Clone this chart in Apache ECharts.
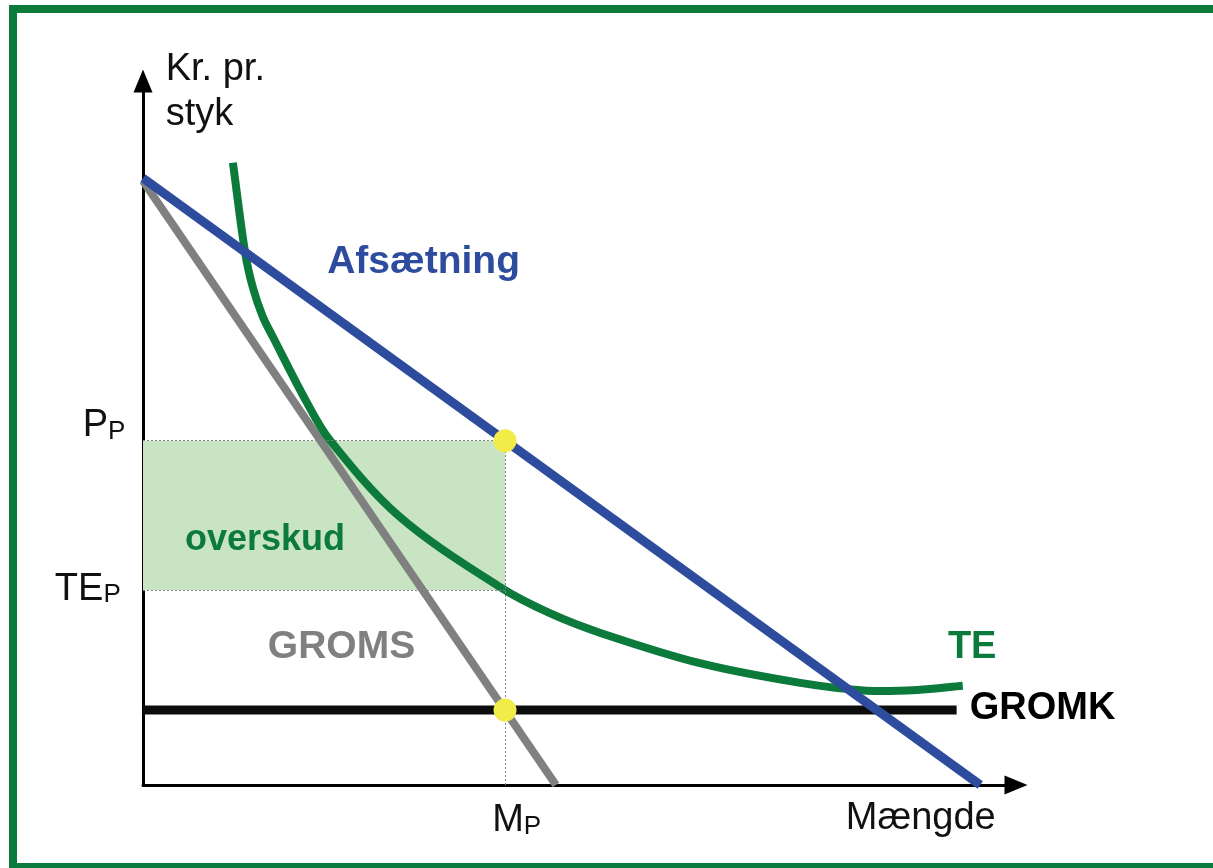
<!DOCTYPE html>
<html>
<head>
<meta charset="utf-8">
<script src="https://cdn.jsdelivr.net/npm/echarts@6/dist/echarts.min.js"></script>
<style>
html,body{margin:0;padding:0;background:#fff;}
#chart{width:1213px;height:868px;}
</style>
</head>
<body>
<div id="chart"></div>
<script>
// ---- Data (quantity on x, kr. per unit on y) ----
const afsaetning = [[0, 8.62], [9.59, 0]];          // demand / price line
const groms = [[0, 8.58], [4.73, 0]];               // marginal revenue
const gromk = [[0, 1.065], [9.32, 1.065]];          // marginal cost
const teCurve = [                                   // average cost (TE)
  [1.03, 8.84], [1.17, 7.56], [1.26, 7.06], [1.37, 6.66], [1.49, 6.36],
  [1.87, 5.45], [2.14, 4.90], [2.94, 3.81], [4.09, 2.81], [4.66, 2.44],
  [5.24, 2.16], [6.38, 1.73], [7.53, 1.45], [8.29, 1.34], [8.87, 1.35],
  [9.39, 1.41]
];
const MP = 4.147;    // optimal quantity
const PP = 4.89;     // optimal price
const TEP = 2.77;    // average cost at MP
const GROMK_VAL = 1.065;
const optimumPoints = [[MP, PP], [MP, GROMK_VAL]];

// ---- Text annotations (anchor in data coordinates) ----
const labels = [
  {text: 'Kr. pr.', at: [0.26, 10.16], kind: 'plain'},
  {text: 'styk', at: [0.26, 9.52], kind: 'plain'},
  {text: 'Afsætning', at: [2.11, 7.43], kind: 'blue'},
  {text: 'overskud', at: [0.48, 3.48], kind: 'green2'},
  {text: 'GROMS', at: [1.43, 1.95], kind: 'gray'},
  {text: 'TE', at: [9.22, 1.96], kind: 'green'},
  {text: 'GROMK', at: [9.47, 1.09], kind: 'black'},
  {text: 'Mængde', at: [8.05, -0.48], kind: 'plain'},
  {text: '{a|M}{b|P}', at: [4.00, -0.51], kind: 'sub'},
  {text: '{a|P}{b|P}', at: [-0.69, 5.10], kind: 'sub'},
  {text: '{a|TE}{b|P}', at: [-1.01, 2.78], kind: 'sub'}
];

const FONT = '"Liberation Sans", Arial, Helvetica, sans-serif';
const BLUE = '#2E4C9E', GREEN = '#0B7A3B', GRAY = '#808080', BLACK = '#0d0d0d';

const chart = echarts.init(document.getElementById('chart'), null, {renderer: 'canvas'});

// Smooth curve through the TE points (chord-length Hermite spline), in pixel space
function smoothPath(pts) {
  const n = pts.length;
  const dist = (a, b) => Math.hypot(b[0] - a[0], b[1] - a[1]);
  const tan = pts.map((p, i) => {
    if (i === 0) { const d = dist(pts[0], pts[1]); return [(pts[1][0] - p[0]) / d, (pts[1][1] - p[1]) / d]; }
    if (i === n - 1) { const d = dist(pts[n - 2], p); return [(p[0] - pts[n - 2][0]) / d, (p[1] - pts[n - 2][1]) / d]; }
    const d = dist(pts[i - 1], p) + dist(p, pts[i + 1]);
    return [(pts[i + 1][0] - pts[i - 1][0]) / d, (pts[i + 1][1] - pts[i - 1][1]) / d];
  });
  let s = 'M' + pts[0][0] + ',' + pts[0][1];
  for (let i = 0; i < n - 1; i++) {
    const d = dist(pts[i], pts[i + 1]) / 3;
    const c1 = [pts[i][0] + tan[i][0] * d, pts[i][1] + tan[i][1] * d];
    const c2 = [pts[i + 1][0] - tan[i + 1][0] * d, pts[i + 1][1] - tan[i + 1][1] * d];
    s += 'C' + c1[0] + ',' + c1[1] + ',' + c2[0] + ',' + c2[1] + ',' + pts[i + 1][0] + ',' + pts[i + 1][1];
  }
  return s;
}

const axisCommon = {
  type: 'value', min: 0, max: 10,
  splitLine: {show: false}, axisTick: {show: false}, axisLabel: {show: false},
  axisLine: {show: true, onZero: false, lineStyle: {color: '#000', width: 3},
             symbol: ['none', 'triangle'], symbolSize: [19, 23]}
};

const option = {
  animation: false,
  backgroundColor: '#fff',
  grid: {left: 143, right: 197, top: 81, bottom: 83, containLabel: false},
  xAxis: Object.assign({}, axisCommon),
  yAxis: Object.assign({}, axisCommon),
  series: [
    {
      type: 'line', data: [], z: 1, silent: true,
      markArea: {silent: true, itemStyle: {color: '#C8E4C2'},
        data: [[{coord: [0, TEP]}, {coord: [MP, PP]}]]},
      markLine: {silent: true, symbol: ['none', 'none'], label: {show: false},
        lineStyle: {type: [2, 2], color: '#858585', width: 1},
        data: [
          [{coord: [0, PP]}, {coord: [MP, PP]}],
          [{coord: [0, TEP]}, {coord: [MP, TEP]}],
          [{coord: [MP, 0]}, {coord: [MP, PP]}]
        ]}
    },
    {name: 'GROMS', type: 'line', data: groms, symbol: 'none', z: 3,
     lineStyle: {color: GRAY, width: 8}},
    {name: 'GROMK', type: 'line', data: gromk, symbol: 'none', z: 3,
     lineStyle: {color: BLACK, width: 9, cap: 'butt'}},
    {name: 'TE', type: 'custom', data: teCurve, z: 4, silent: true,
     encode: {x: 0, y: 1},
     renderItem: function (params, api) {
       if (params.dataIndex !== 0) return null;
       const pts = teCurve.map(p => api.coord(p));
       return {type: 'path', shape: {pathData: smoothPath(pts)},
               style: {fill: 'none', stroke: GREEN, lineWidth: 8, lineCap: 'butt'}};
     }},
    {name: 'Afsætning', type: 'line', data: afsaetning, symbol: 'none', z: 5,
     lineStyle: {color: BLUE, width: 9}},
    {type: 'scatter', data: optimumPoints, symbolSize: 23, z: 6,
     itemStyle: {color: '#F2EC48', opacity: 1}}
  ]
};
chart.setOption(option);

function styleFor(kind) {
  const base = {fontFamily: FONT, textVerticalAlign: 'middle', verticalAlign: 'middle',
                textAlign: 'left', align: 'left'};
  switch (kind) {
    case 'plain': return Object.assign(base, {fill: '#111', fontSize: 38});
    case 'blue': return Object.assign(base, {fill: BLUE, fontSize: 39, fontWeight: 'bold'});
    case 'green': return Object.assign(base, {fill: GREEN, fontSize: 38, fontWeight: 'bold'});
    case 'green2': return Object.assign(base, {fill: GREEN, fontSize: 36, fontWeight: 'bold'});
    case 'gray': return Object.assign(base, {fill: GRAY, fontSize: 39, fontWeight: 'bold'});
    case 'black': return Object.assign(base, {fill: '#000', fontSize: 38, fontWeight: 'bold'});
    case 'sub': return Object.assign(base, {fill: '#111', rich: {
      a: {fontSize: 38, lineHeight: 38, fontFamily: FONT, fill: '#111'},
      b: {fontSize: 26, lineHeight: 26, fontFamily: FONT, fill: '#111', verticalAlign: 'bottom'}
    }});
  }
}

const graphics = labels.map(function (l) {
  const p = chart.convertToPixel({gridIndex: 0}, l.at);
  const st = styleFor(l.kind);
  st.text = l.text;
  return {type: 'text', x: p[0], y: p[1], z: 100, silent: true, style: st};
});
graphics.push({
  type: 'rect', z: 200, silent: true,
  shape: {x: 13, y: 9, width: 1230, height: 858},
  style: {fill: 'none', stroke: '#0B7A3B', lineWidth: 8}
});
chart.setOption({graphic: graphics});
</script>
</body>
</html>
